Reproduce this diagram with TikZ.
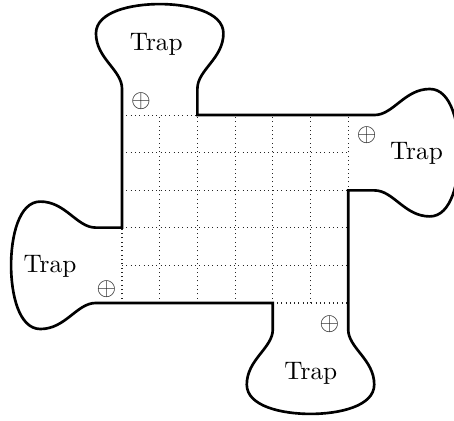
\documentclass[tikz,border=0pt]{standalone}
\begin{document}
\begin{tikzpicture}[x=14.89pt,y=14.85pt,
  gridline/.style={line width=0.4pt,black!85,dash pattern=on 0.4pt off 1.3pt},
  outline/.style={line width=1.05pt,black,line join=miter},
  label/.style={inner sep=0pt,font=\normalsize},
  port/.style={inner sep=0pt,black!85},
  trapins/.style n args={2}{insert path={
    -- ([shift={#1},rotate=#2]0,0.70)
    .. controls ([shift={#1},rotate=#2]0,1.20) and ([shift={#1},rotate=#2]-0.69,1.50) .. ([shift={#1},rotate=#2]-0.69,2.17)
    .. controls ([shift={#1},rotate=#2]-0.69,2.75) and ([shift={#1},rotate=#2]0.25,2.95) .. ([shift={#1},rotate=#2]1.0,2.95)
    .. controls ([shift={#1},rotate=#2]1.75,2.95) and ([shift={#1},rotate=#2]2.69,2.75) .. ([shift={#1},rotate=#2]2.69,2.17)
    .. controls ([shift={#1},rotate=#2]2.69,1.50) and ([shift={#1},rotate=#2]2,1.20) .. ([shift={#1},rotate=#2]2,0.70)
    -- ([shift={#1},rotate=#2]2,0)}}
]
\useasboundingbox (-3.236,-3.138) rectangle (8.806,8.059);
% grid
\draw[gridline,step=1] (0,0) grid (6,5);
% outline with the four traps
\draw[outline] (0,5) [trapins={(0,5)}{0}] -- (6,5) [trapins={(6,5)}{-90}]
  -- (6,0) [trapins={(6,0)}{180}] -- (0,0) [trapins={(0,0)}{90}] -- cycle;
% labels
\node[label] (tT) at (0.91,6.89) {Trap};
\node[label] (tR) at (7.81,3.97) {Trap};
\node[label] (tL) at (-1.91,0.97) {Trap};
\node[label] (tB) at (5.01,-1.87) {Trap};
% ports
\node[port] (pT) at (0.50,5.37) {$\oplus$};
\node[port] (pR) at (6.49,4.47) {$\oplus$};
\node[port] (pL) at (-0.41,0.36) {$\oplus$};
\node[port] (pB) at (5.50,-0.56) {$\oplus$};
\end{tikzpicture}
\end{document}
